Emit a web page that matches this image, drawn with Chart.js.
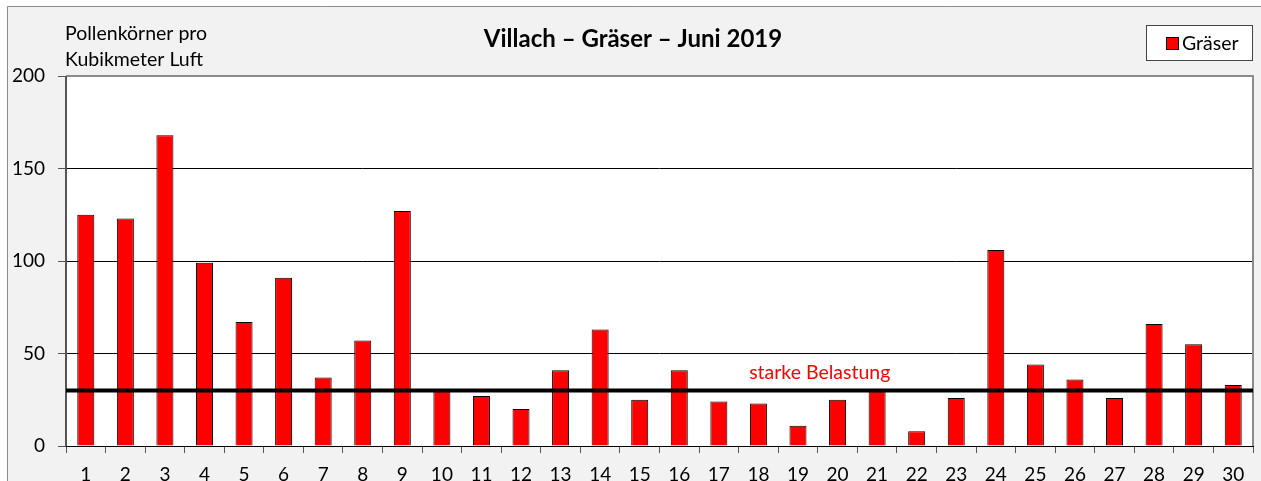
<!DOCTYPE html>
<html>
<head>
<meta charset="utf-8">
<script src="https://cdn.jsdelivr.net/npm/chart.js@4"></script>
<style>
  html, body { margin: 0; padding: 0; background: #fff; }
  #wrap { width: 1261px; height: 481px; }
</style>
</head>
<body>
<div id="wrap"><canvas id="chart"></canvas></div>
<script>
// Tage im Juni
const days = ['1','2','3','4','5','6','7','8','9','10','11','12','13','14','15',
              '16','17','18','19','20','21','22','23','24','25','26','27','28','29','30']
// Pollenkörner pro m³ Luft
const grassValues = [125, 123, 168, 99, 67, 91, 37, 57, 127, 30, 27, 20, 41, 63, 25,
                     41, 24, 23, 11, 25, 31, 8, 26, 106, 44, 36, 26, 66, 55, 33]
const yTicks = [0, 50, 100, 150, 200]
const threshold = 30
const thresholdLabel = 'starke Belastung'
const chartTitle = 'Villach – Gräser – Juni 2019'
const yTitle = ['Pollenkörner pro', 'Kubikmeter Luft']

const FONT = 'Lato, "Open Sans", sans-serif'

// Hintergrund, Rahmen, Titel, Legende, Grenzlinie
const decor = {
  id: 'decor',
  beforeDraw(chart) {
    const ctx = chart.ctx
    const a = chart.chartArea
    ctx.save()
    ctx.fillStyle = '#ffffff'
    ctx.fillRect(0, 0, chart.width, chart.height)
    ctx.fillStyle = '#f2f2f2'
    ctx.fillRect(7, 6, chart.width - 7, chart.height - 6)
    ctx.strokeStyle = '#8c8c8c'
    ctx.lineWidth = 1
    ctx.beginPath()
    ctx.moveTo(7.5, chart.height)
    ctx.lineTo(7.5, 6.5)
    ctx.lineTo(chart.width, 6.5)
    ctx.stroke()
    ctx.fillStyle = '#ffffff'
    ctx.fillRect(a.left, a.top, a.right - a.left, a.bottom - a.top)
    ctx.restore()
  },
  afterDatasetsDraw(chart) {
    const ctx = chart.ctx
    const a = chart.chartArea
    const y = chart.scales.y
    ctx.save()
    // Rahmen der Zeichenfläche
    ctx.strokeStyle = '#8c8c8c'
    ctx.lineWidth = 2
    ctx.beginPath()
    ctx.moveTo(a.left, a.top)
    ctx.lineTo(a.right, a.top)
    ctx.lineTo(a.right, a.bottom)
    ctx.stroke()
    ctx.strokeStyle = '#555'
    ctx.beginPath()
    ctx.moveTo(a.left, a.top)
    ctx.lineTo(a.left, a.bottom)
    ctx.stroke()

    // Grenzwert
    const ty = y.getPixelForValue(threshold)
    ctx.strokeStyle = '#000'
    ctx.lineWidth = 4
    ctx.beginPath()
    ctx.moveTo(a.left, ty)
    ctx.lineTo(a.right, ty)
    ctx.stroke()
    ctx.fillStyle = '#ff0000'
    ctx.font = '19.5px ' + FONT
    ctx.textAlign = 'center'
    ctx.textBaseline = 'middle'
    ctx.fillText(thresholdLabel, a.left + (a.right - a.left) * 0.635, ty - 18)

    // Titel
    ctx.fillStyle = '#000'
    ctx.font = 'bold 24px ' + FONT
    ctx.fillText(chartTitle, 633, 39)

    // Achsentitel
    ctx.font = '19.5px ' + FONT
    ctx.textAlign = 'left'
    ctx.fillText(yTitle[0], 65, 34)
    ctx.fillText(yTitle[1], 65, 60)

    // Legende
    const ds = chart.data.datasets[0]
    ctx.fillStyle = '#fff'
    ctx.fillRect(1146, 25, 107, 36)
    ctx.strokeStyle = '#444'
    ctx.lineWidth = 1
    ctx.strokeRect(1146.5, 25.5, 106, 35)
    ctx.fillStyle = ds.backgroundColor
    ctx.fillRect(1166, 37, 13, 13)
    ctx.strokeStyle = '#000'
    ctx.strokeRect(1166.5, 37.5, 12, 12)
    ctx.fillStyle = '#000'
    ctx.font = '19.5px ' + FONT
    ctx.fillText(ds.label, 1182, 44)
    ctx.restore()
  }
}

new Chart(document.getElementById('chart'), {
  type: 'bar',
  data: {
    labels: days,
    datasets: [{
      label: 'Gräser',
      data: grassValues,
      backgroundColor: '#ff0000',
      borderColor: '#000',
      borderWidth: 1,
      barPercentage: 0.43,
      categoryPercentage: 1
    }]
  },
  options: {
    responsive: true,
    maintainAspectRatio: false,
    animation: false,
    layout: { padding: { left: 0, top: 76, right: 8, bottom: 0 } },
    plugins: {
      legend: { display: false },
      title: { display: false },
      tooltip: { enabled: false }
    },
    scales: {
      x: {
        offset: true,
        grid: {
          offset: true,
          drawOnChartArea: false,
          tickLength: 7,
          tickColor: '#555',
          lineWidth: 1
        },
        border: { display: true, color: '#000', width: 1 },
        ticks: { color: '#000', font: { family: FONT, size: 19 }, padding: 10, maxRotation: 0, autoSkip: false },
        afterFit(scale) { scale.height = 35 }
      },
      y: {
        min: 0,
        max: 200,
        afterBuildTicks(scale) { scale.ticks = yTicks.map(v => ({ value: v })) },
        grid: {
          color: '#000',
          lineWidth: 1,
          tickLength: 8,
          tickColor: '#555'
        },
        border: { display: false },
        ticks: { color: '#000', font: { family: FONT, size: 19 }, padding: 13 },
        afterFit(scale) { scale.width = 66 }
      }
    }
  },
  plugins: [decor]
})
</script>
</body>
</html>
